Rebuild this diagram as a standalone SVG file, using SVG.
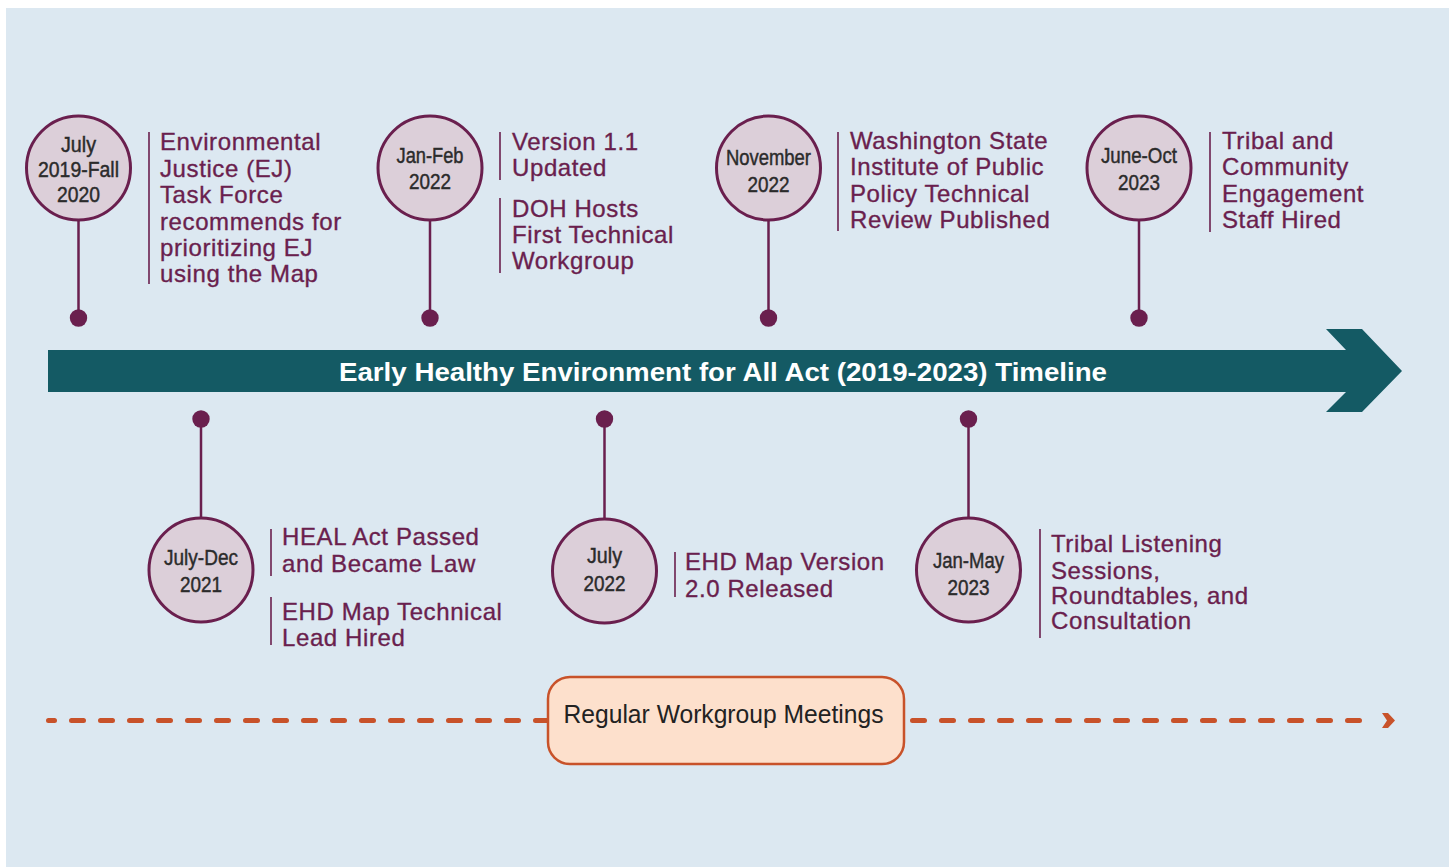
<svg xmlns="http://www.w3.org/2000/svg" width="1449" height="867" viewBox="0 0 1449 867">
<defs>
<style>
.bg{fill:#dce8f1}
.circ{fill:#dccfd9;stroke:#6a1f4e;stroke-width:3}
.stem{stroke:#6a1f4e;stroke-width:2.5;fill:none}
.dot{fill:#6a1f4e}
.bar{stroke:#6a1f4e;stroke-width:1.6}
.date{font-family:"Liberation Sans",Arial,sans-serif;font-size:22px;fill:#2b2b2b;stroke:#2b2b2b;stroke-width:0.45;text-anchor:middle}
.desc{font-family:"Liberation Sans",Arial,sans-serif;font-size:24px;fill:#6a1f4e;letter-spacing:0.6px;stroke:#6a1f4e;stroke-width:0.35}
.title{font-family:"Liberation Sans",Arial,sans-serif;font-size:26px;font-weight:bold;fill:#ffffff;text-anchor:middle}
.meet{font-family:"Liberation Sans",Arial,sans-serif;font-size:25px;fill:#222222;text-anchor:middle}
</style>
</defs>
<rect x="0" y="0" width="1449" height="867" fill="#ffffff"/>
<rect class="bg" x="6" y="8" width="1443" height="859"/>

<g id="timeline-arrow">
<polygon points="48,350 1346,350 1326,329 1362,329 1402,371 1362,412 1326,412 1346,392 48,392" fill="#145a64"/>
<text class="title" x="723" y="381" textLength="768" lengthAdjust="spacingAndGlyphs">Early Healthy Environment for All Act (2019-2023) Timeline</text>
</g>

<g id="connectors">
<path d="M48.5,720.5 H1370" stroke="#c8522a" stroke-width="5" stroke-linecap="round" stroke-dasharray="12 17" stroke-dashoffset="6" fill="none"/>
<polygon points="1382,713 1388,713 1395,720.5 1388,728 1382,728 1387,720.5" fill="#c8522a"/>
</g>

<g id="node-2019">
<line class="stem" x1="78.5" y1="220" x2="78.5" y2="318"/>
<circle class="dot" cx="78.5" cy="318" r="8.7"/>
<circle class="circ" cx="78.5" cy="168" r="52"/>
<text class="date" x="78.5" y="152" textLength="35" lengthAdjust="spacingAndGlyphs">July</text>
<text class="date" x="78.5" y="177" textLength="81" lengthAdjust="spacingAndGlyphs">2019-Fall</text>
<text class="date" x="78.5" y="202" textLength="43" lengthAdjust="spacingAndGlyphs">2020</text>
<line class="bar" x1="149" y1="132" x2="149" y2="284"/>
<text class="desc" x="160" y="150">Environmental</text>
<text class="desc" x="160" y="176.5">Justice (EJ)</text>
<text class="desc" x="160" y="203">Task Force</text>
<text class="desc" x="160" y="229.5">recommends for</text>
<text class="desc" x="160" y="256">prioritizing EJ</text>
<text class="desc" x="160" y="282">using the Map</text>
</g>

<g id="node-2021">
<line class="stem" x1="201" y1="419" x2="201" y2="518"/>
<circle class="dot" cx="201" cy="419" r="8.7"/>
<circle class="circ" cx="201" cy="570" r="52"/>
<text class="date" x="201" y="565" textLength="74" lengthAdjust="spacingAndGlyphs">July-Dec</text>
<text class="date" x="201" y="592" textLength="42" lengthAdjust="spacingAndGlyphs">2021</text>
<line class="bar" x1="271" y1="529" x2="271" y2="576"/>
<text class="desc" x="282" y="545">HEAL Act Passed</text>
<text class="desc" x="282" y="572">and Became Law</text>
<line class="bar" x1="271" y1="597" x2="271" y2="645"/>
<text class="desc" x="282" y="620">EHD Map Technical</text>
<text class="desc" x="282" y="646">Lead Hired</text>
</g>

<g id="node-2022-janfeb">
<line class="stem" x1="430" y1="220" x2="430" y2="318"/>
<circle class="dot" cx="430" cy="318" r="8.7"/>
<circle class="circ" cx="430" cy="168" r="52"/>
<text class="date" x="430" y="163" textLength="67" lengthAdjust="spacingAndGlyphs">Jan-Feb</text>
<text class="date" x="430" y="189" textLength="42" lengthAdjust="spacingAndGlyphs">2022</text>
<line class="bar" x1="500" y1="132" x2="500" y2="180"/>
<text class="desc" x="512" y="150">Version 1.1</text>
<text class="desc" x="512" y="176">Updated</text>
<line class="bar" x1="500" y1="198" x2="500" y2="273"/>
<text class="desc" x="512" y="217">DOH Hosts</text>
<text class="desc" x="512" y="243">First Technical</text>
<text class="desc" x="512" y="269">Workgroup</text>
</g>

<g id="node-2022-july">
<line class="stem" x1="604.5" y1="419" x2="604.5" y2="519"/>
<circle class="dot" cx="604.5" cy="419" r="8.7"/>
<circle class="circ" cx="604.5" cy="571" r="52"/>
<text class="date" x="604.5" y="563" textLength="35" lengthAdjust="spacingAndGlyphs">July</text>
<text class="date" x="604.5" y="591" textLength="42" lengthAdjust="spacingAndGlyphs">2022</text>
<line class="bar" x1="675" y1="552" x2="675" y2="597"/>
<text class="desc" x="685" y="570">EHD Map Version</text>
<text class="desc" x="685" y="597">2.0 Released</text>
</g>

<g id="node-2022-nov">
<line class="stem" x1="768.5" y1="220" x2="768.5" y2="318"/>
<circle class="dot" cx="768.5" cy="318" r="8.7"/>
<circle class="circ" cx="768.5" cy="168" r="52"/>
<text class="date" x="768.5" y="165" textLength="85" lengthAdjust="spacingAndGlyphs">November</text>
<text class="date" x="768.5" y="192" textLength="42" lengthAdjust="spacingAndGlyphs">2022</text>
<line class="bar" x1="838" y1="132" x2="838" y2="231"/>
<text class="desc" x="850" y="149">Washington State</text>
<text class="desc" x="850" y="175">Institute of Public</text>
<text class="desc" x="850" y="202">Policy Technical</text>
<text class="desc" x="850" y="228">Review Published</text>
</g>

<g id="node-2023-janmay">
<line class="stem" x1="968.5" y1="419" x2="968.5" y2="518"/>
<circle class="dot" cx="968.5" cy="419" r="8.7"/>
<circle class="circ" cx="968.5" cy="570" r="52"/>
<text class="date" x="968.5" y="568" textLength="71" lengthAdjust="spacingAndGlyphs">Jan-May</text>
<text class="date" x="968.5" y="595" textLength="42" lengthAdjust="spacingAndGlyphs">2023</text>
<line class="bar" x1="1040" y1="529" x2="1040" y2="638"/>
<text class="desc" x="1051" y="552">Tribal Listening</text>
<text class="desc" x="1051" y="579">Sessions,</text>
<text class="desc" x="1051" y="604">Roundtables, and</text>
<text class="desc" x="1051" y="629">Consultation</text>
</g>

<g id="node-2023-junoct">
<line class="stem" x1="1139" y1="220" x2="1139" y2="318"/>
<circle class="dot" cx="1139" cy="318" r="8.7"/>
<circle class="circ" cx="1139" cy="168" r="52"/>
<text class="date" x="1139" y="163" textLength="76" lengthAdjust="spacingAndGlyphs">June-Oct</text>
<text class="date" x="1139" y="190" textLength="42" lengthAdjust="spacingAndGlyphs">2023</text>
<line class="bar" x1="1210" y1="132" x2="1210" y2="232"/>
<text class="desc" x="1222" y="149">Tribal and</text>
<text class="desc" x="1222" y="175">Community</text>
<text class="desc" x="1222" y="202">Engagement</text>
<text class="desc" x="1222" y="228">Staff Hired</text>
</g>

<g id="node-meetings">
<rect x="548" y="677" width="356" height="87" rx="22" ry="22" fill="#fde0cc" stroke="#c8522a" stroke-width="2.5"/>
<text class="meet" x="723.5" y="723" textLength="320" lengthAdjust="spacingAndGlyphs">Regular Workgroup Meetings</text>
</g>
</svg>
